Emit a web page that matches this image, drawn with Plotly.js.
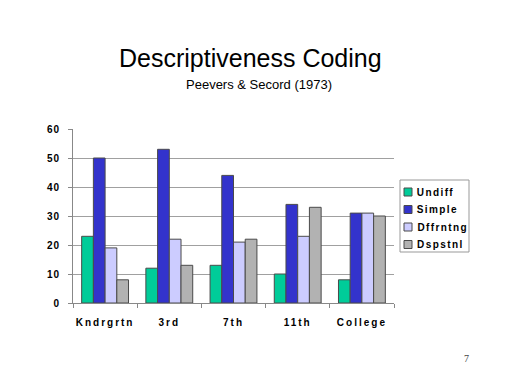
<!DOCTYPE html>
<html>
<head>
<meta charset="utf-8">
<script src="https://cdn.plot.ly/plotly-3.0.1.min.js"></script>
<style>
html,body{margin:0;padding:0;background:#fff;}
#chart{width:512px;height:384px;}
.xtick text { letter-spacing: 2px; }
.ytick text { letter-spacing: 1px; }
g.annotation[data-index="0"] text,
g.annotation[data-index="1"] text,
g.annotation[data-index="2"] text,
g.annotation[data-index="3"] text { letter-spacing: 1.4px; }
</style>
</head>
<body>
<div id="chart"></div>
<script>
const categories = ["Kndrgrtn", "3rd", "7th", "11th", "College"];
const undiff = [23, 12, 13, 10, 8];
const simple = [50, 53, 44, 34, 31];
const dffrntng = [19, 22, 21, 23, 31];
const dspstnl = [8, 13, 22, 33, 30];
const seriesNames = ["Undiff", "Simple", "Dffrntng", "Dspstnl"];
const seriesColors = ["#00CC99", "#3333CC", "#CCCCFF", "#B2B2B2"];
const yTicks = [0, 10, 20, 30, 40, 50, 60];

const seriesValues = [undiff, simple, dffrntng, dspstnl];
const traces = seriesValues.map((vals, i) => ({
  type: "bar",
  name: seriesNames[i],
  x: categories,
  y: vals,
  marker: { color: seriesColors[i], line: { color: "#4a4a4a", width: 1 } },
  hoverinfo: "none"
}));

// plot area in pixels (for placing layout items in paper coordinates)
const L = 73, R = 394, T = 129, B = 303;
const px = v => (v - L) / (R - L);
const py = v => (B - v) / (B - T);

const shapes = [];
const annotations = [];
// custom legend (box, swatches, labels)
shapes.push({ type: "rect", xref: "paper", yref: "paper",
  x0: px(400), x1: px(469), y0: py(252), y1: py(180),
  line: { color: "#999999", width: 1 }, fillcolor: "#ffffff", layer: "above" });
const rowCenters = [192, 209.5, 227, 244.5];
seriesNames.forEach((name, i) => {
  const c = rowCenters[i];
  shapes.push({ type: "rect", xref: "paper", yref: "paper",
    x0: px(404), x1: px(412), y0: py(c + 4), y1: py(c - 4),
    line: { color: "#4a4a4a", width: 1 }, fillcolor: seriesColors[i], layer: "above" });
  // CSS letter-spacing widens centred text; compensate so it starts at 415px
  annotations.push({ text: name, xref: "paper", yref: "paper", x: px(415 + name.length * 0.7), y: py(c),
    xanchor: "left", yanchor: "middle", showarrow: false,
    font: { family: "Liberation Sans, Arial, sans-serif", size: 10, color: "#000", weight: "bold" } });
});
annotations.push(
  { text: "Descriptiveness Coding", xref: "paper", yref: "paper", x: px(251), y: py(58),
    xanchor: "center", yanchor: "middle", showarrow: false,
    font: { family: "Liberation Sans, Arial, sans-serif", size: 25, color: "#000" } },
  { text: "Peevers & Secord (1973)", xref: "paper", yref: "paper", x: px(259), y: py(84),
    xanchor: "center", yanchor: "middle", showarrow: false,
    font: { family: "Liberation Sans, Arial, sans-serif", size: 13, color: "#000" } },
  { text: "7", xref: "paper", yref: "paper", x: px(466), y: py(358),
    xanchor: "center", yanchor: "middle", showarrow: false,
    font: { family: "Liberation Serif, serif", size: 10, color: "#444" } }
);

const layout = {
  width: 512, height: 384,
  margin: { l: L, r: 512 - R, t: T, b: 384 - B },
  paper_bgcolor: "#ffffff",
  plot_bgcolor: "#ffffff",
  barmode: "group",
  bargap: 0.27,
  bargroupgap: 0,
  showlegend: false,
  xaxis: {
    type: "category",
    tickson: "boundaries",
    ticks: "outside", ticklen: 4, tickcolor: "#888888",
    showline: true, linecolor: "#888888", linewidth: 1,
    showgrid: false,
    ticklabelstandoff: 10,
    tickfont: { family: "Liberation Sans, Arial, sans-serif", size: 10, color: "#000", weight: "bold" },
    fixedrange: true
  },
  yaxis: {
    range: [0, 60],
    tickvals: yTicks,
    ticks: "outside", ticklen: 4, tickcolor: "#888888",
    showline: true, linecolor: "#888888", linewidth: 1,
    showgrid: true, gridcolor: "#A0A0A0", gridwidth: 1,
    zeroline: false,
    ticklabelstandoff: 6,
    tickfont: { family: "Liberation Sans, Arial, sans-serif", size: 10, color: "#000", weight: "bold" },
    fixedrange: true
  },
  shapes: shapes,
  annotations: annotations
};

Plotly.newPlot("chart", traces, layout, { staticPlot: true, displayModeBar: false });
</script>
</body>
</html>
